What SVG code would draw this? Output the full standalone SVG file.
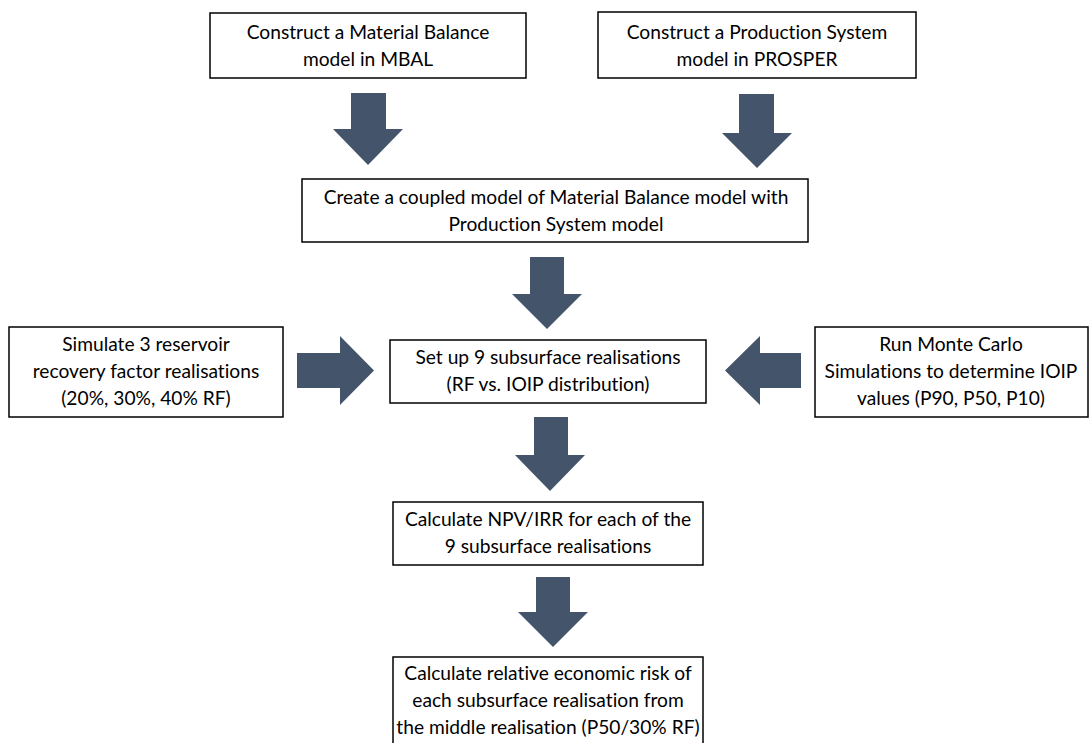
<svg xmlns="http://www.w3.org/2000/svg" width="1089" height="743" viewBox="0 0 1089 743">
<style>
.box{fill:#fff;stroke:#000;stroke-width:1.5}
.t{font-family:Lato,"Open Sans","Liberation Sans",sans-serif;font-size:19.2px;fill:#000;text-anchor:middle;font-variant-ligatures:none}
.arr{fill:#44546A}
</style>
<rect width="1089" height="743" fill="#fff"/>
<g id="connectors">
<polygon class="arr" points="351,93 386,93 386,129 403,129 368,165 333,129 351,129"/>
<polygon class="arr" points="739,94 774,94 774,133 792,133 757,168 722,133 739,133"/>
<polygon class="arr" points="530,257 564,257 564,294 582,294 547,329 512,294 530,294"/>
<polygon class="arr" points="297,353 340,353 340,336 374,370.5 340,405 340,388 297,388"/>
<polygon class="arr" points="801,353 760,353 760,336 725,370.5 760,405 760,388 801,388"/>
<polygon class="arr" points="534,417 568,417 568,455 585,455 550,491 515,455 534,455"/>
<polygon class="arr" points="536,577 570,577 570,612 588,612 553,647 518,612 536,612"/>
</g>
<g id="n1"><rect class="box" x="210" y="13" width="316" height="65"/>
<text class="t" x="368" y="39">Construct a Material Balance</text><text class="t" x="368" y="66">model in MBAL</text></g>
<g id="n2"><rect class="box" x="598" y="12" width="318" height="66"/>
<text class="t" x="757" y="39">Construct a Production System</text><text class="t" x="757" y="66">model in PROSPER</text></g>
<g id="n3"><rect class="box" x="302" y="179" width="506" height="63"/>
<text class="t" x="556" y="204">Create a coupled model of Material Balance model with</text><text class="t" x="556" y="231">Production System model</text></g>
<g id="n4"><rect class="box" x="9" y="327" width="274" height="90"/>
<text class="t" x="146" y="351">Simulate 3 reservoir</text><text class="t" x="146" y="378">recovery factor realisations</text><text class="t" x="146" y="405">(20%, 30%, 40% RF)</text></g>
<g id="n5"><rect class="box" x="390" y="340" width="316" height="63"/>
<text class="t" x="548" y="364">Set up 9 subsurface realisations</text><text class="t" x="548" y="391">(RF vs. IOIP distribution)</text></g>
<g id="n6"><rect class="box" x="815" y="327" width="273" height="90"/>
<text class="t" x="951" y="351">Run Monte Carlo</text><text class="t" x="951" y="378">Simulations to determine IOIP</text><text class="t" x="951" y="405">values (P90, P50, P10)</text></g>
<g id="n7"><rect class="box" x="393" y="502" width="310" height="63"/>
<text class="t" x="548" y="526">Calculate NPV/IRR for each of the</text><text class="t" x="548" y="553">9 subsurface realisations</text></g>
<g id="n8"><rect class="box" x="393" y="657" width="310" height="100"/>
<text class="t" x="548" y="680">Calculate relative economic risk of</text><text class="t" x="548" y="707">each subsurface realisation from</text><text class="t" x="548" y="734">the middle realisation (P50/30% RF)</text></g>
</svg>
